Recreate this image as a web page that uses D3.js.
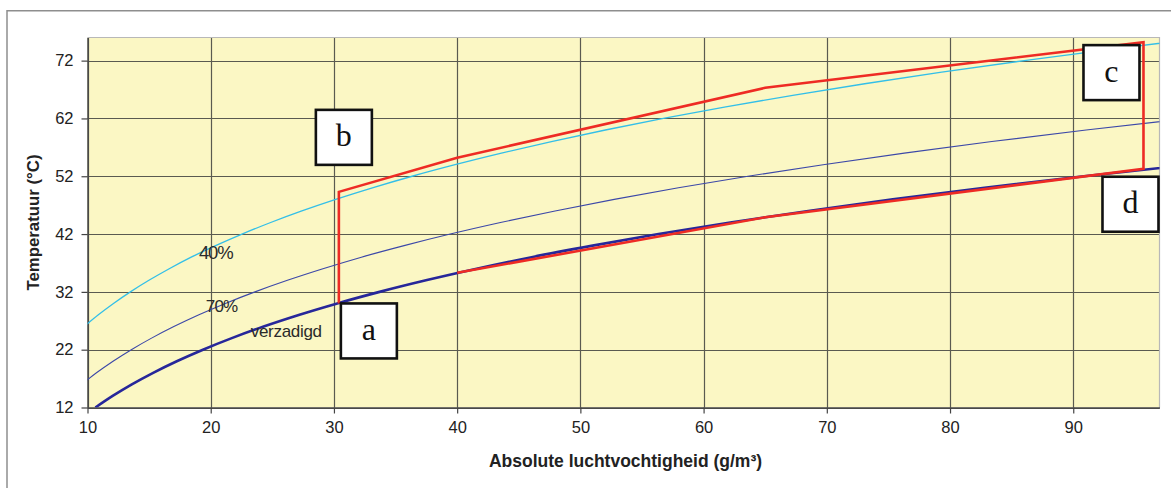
<!DOCTYPE html>
<html>
<head>
<meta charset="utf-8">
<script src="https://cdn.jsdelivr.net/npm/d3@7"></script>
<style>
  html, body { margin: 0; padding: 0; background: #ffffff; }
  svg { display: block; }
</style>
</head>
<body>
<svg id="chart" width="1171" height="488"></svg>
<script>
// Axis ticks
const xTicks = [10, 20, 30, 40, 50, 60, 70, 80, 90];
const yTicks = [12, 22, 32, 42, 52, 62, 72];

// Saturated air ("verzadigd"): absolute humidity (g/m3) at each temperature (°C)
const satTemp     = [12, 14, 16, 18, 20, 22, 24, 26, 28, 30, 32, 34, 36, 38, 40, 42, 44, 46, 48, 50, 52, 54];
const satHumidity = [10.641, 12.041, 13.599, 15.329, 17.246, 19.367, 21.711, 24.296, 27.141, 30.270, 33.703,
                     37.466, 41.583, 46.040, 50.992, 56.342, 62.164, 68.494, 75.357, 82.800, 90.858, 99.572];

// 70% relative humidity
const rh70Temp     = [16, 18, 20, 22, 24, 26, 28, 30, 32, 34, 36, 38, 40, 42, 44, 46, 48, 50, 52, 54, 56, 58, 60, 62];
const rh70Humidity = [9.519, 10.730, 12.072, 13.557, 15.198, 17.007, 18.999, 21.189, 23.592, 26.226, 29.108, 32.228,
                      35.694, 39.439, 43.515, 47.946, 52.750, 57.960, 63.601, 69.700, 76.288, 83.393, 91.050, 99.292];

// 40% relative humidity
const rh40Temp     = [26, 28, 30, 32, 34, 36, 38, 40, 42, 44, 46, 48, 50, 52, 54, 56, 58, 60, 62, 64, 66, 68, 70, 72, 74, 76];
const rh40Humidity = [9.718, 10.856, 12.108, 13.481, 14.986, 16.633, 18.416, 20.397, 22.537, 24.866, 27.398, 30.143, 33.120,
                      36.343, 39.829, 43.593, 47.653, 52.029, 56.738, 61.801, 67.239, 73.073, 79.326, 86.020, 93.180, 100.832];

// Drying cycle a → b → c → d → back along saturation
const cycleHumidity = [30.4, 30.4, 40, 65, 95.7, 95.7, 65, 40];
const cycleTemp     = [30.0, 49.3, 55.2, 67.3, 75.2, 53.3, 44.9, 35.3];
const pointLabels   = ["a", "b", "c", "d"];
const pointIndex    = [0, 1, 4, 5];

// Curve labels
const curveLabels   = ["40%", "70%", "verzadigd"];
const labelHumidity = [19.05, 19.6, 23.25];
const labelTemp     = [37.7, 28.6, 24.2];

const sans = "'Liberation Sans', Arial, Helvetica, sans-serif";
const serif = "'Liberation Serif', 'Times New Roman', serif";

const svg = d3.select("#chart");

const x = d3.scaleLinear().domain([10, 97]).range([87.5, 1159.5]);
const y = d3.scaleLinear().domain([12, 76]).range([407.5, 37.5]);

// outer frame
svg.append("rect")
  .attr("x", 7).attr("y", 10.75)
  .attr("width", 1200).attr("height", 500)
  .attr("fill", "none").attr("stroke", "#8e8e8e").attr("stroke-width", 1.5);

// plot background
svg.append("rect")
  .attr("x", x(10)).attr("y", y(76))
  .attr("width", x(97) - x(10)).attr("height", y(12) - y(76))
  .attr("fill", "#fbf7c4");

svg.append("clipPath").attr("id", "plot-clip")
  .append("rect")
  .attr("x", x(10)).attr("y", y(76))
  .attr("width", x(97) - x(10)).attr("height", y(12) - y(76));

// grid
const grid = svg.append("g");
grid.selectAll("line.v").data(xTicks).join("line")
  .attr("x1", d => Math.round(x(d)) + 0.5).attr("x2", d => Math.round(x(d)) + 0.5)
  .attr("y1", y(76)).attr("y2", y(12))
  .attr("stroke", "#5a5a50").attr("stroke-width", 1.2);
grid.selectAll("line.h").data(yTicks).join("line")
  .attr("y1", d => Math.round(y(d)) + 0.5).attr("y2", d => Math.round(y(d)) + 0.5)
  .attr("x1", x(10)).attr("x2", x(97))
  .attr("stroke", "#5a5a50").attr("stroke-width", 1.2);

// top and right border
svg.append("path")
  .attr("d", `M${x(10)},${y(76)}H${x(97)}V${y(12)}`)
  .attr("fill", "none").attr("stroke", "#b8b8b8").attr("stroke-width", 1.2);

// axes
const xAxis = svg.append("g")
  .attr("transform", `translate(0,${y(12)})`)
  .call(d3.axisBottom(x).tickValues(xTicks).tickSize(6).tickPadding(8).tickSizeOuter(0));
const yAxis = svg.append("g")
  .attr("transform", `translate(${x(10)},0)`)
  .call(d3.axisLeft(y).tickValues(yTicks).tickSize(6).tickPadding(8).tickSizeOuter(0));
[xAxis, yAxis].forEach(g => {
  g.select(".domain").attr("stroke", "#444").attr("stroke-width", 1.4);
  g.selectAll(".tick line").attr("stroke", "#444").attr("stroke-width", 1.2);
  g.selectAll(".tick text")
    .attr("font-size", 16.5)
    .attr("font-family", sans)
    .attr("fill", "#222");
});

// curves
const line = d3.line().x(d => x(d[0])).y(d => y(d[1])).curve(d3.curveMonotoneX);
const curves = svg.append("g").attr("clip-path", "url(#plot-clip)");

curves.append("path")
  .datum(d3.zip(rh40Humidity, rh40Temp))
  .attr("d", line).attr("fill", "none")
  .attr("stroke", "#33bfe8").attr("stroke-width", 1.3);

curves.append("path")
  .datum(d3.zip(rh70Humidity, rh70Temp))
  .attr("d", line).attr("fill", "none")
  .attr("stroke", "#3c48a8").attr("stroke-width", 1.1);

curves.append("path")
  .datum(d3.zip(satHumidity, satTemp))
  .attr("d", line).attr("fill", "none")
  .attr("stroke", "#27279a").attr("stroke-width", 2.6);

// drying cycle
const cycle = d3.line().x(d => x(d[0])).y(d => y(d[1]));
svg.append("path")
  .datum(d3.zip(cycleHumidity, cycleTemp))
  .attr("d", cycle).attr("fill", "none")
  .attr("stroke", "#ee2b24").attr("stroke-width", 2.6)
  .attr("stroke-linejoin", "miter");

// curve labels
const labelSizes = [18.5, 17, 17];
const labelSpacing = [-1.2, -0.8, -0.3];
svg.append("g").selectAll("text").data(curveLabels).join("text")
  .attr("x", (d, i) => x(labelHumidity[i]))
  .attr("y", (d, i) => y(labelTemp[i]))
  .attr("font-family", sans)
  .attr("font-size", (d, i) => labelSizes[i])
  .attr("letter-spacing", (d, i) => labelSpacing[i])
  .attr("fill", "#2a2a2a")
  .text(d => d);

// point labels in boxes
const boxW = 56, boxH = 55;
const boxOffsets = [[2, 0], [-23, -82], [-60, 3], [-41, 8]];
const boxes = svg.append("g").selectAll("g").data(pointLabels).join("g")
  .attr("transform", (d, i) => {
    const k = pointIndex[i];
    return `translate(${x(cycleHumidity[k]) + boxOffsets[i][0]},${y(cycleTemp[k]) + boxOffsets[i][1]})`;
  });
boxes.append("rect")
  .attr("width", boxW).attr("height", boxH)
  .attr("fill", "#ffffff").attr("stroke", "#111").attr("stroke-width", 2.6);
boxes.append("text")
  .attr("x", boxW / 2).attr("y", boxH / 2 + 9)
  .attr("text-anchor", "middle")
  .attr("font-family", serif)
  .attr("font-size", 32)
  .attr("fill", "#111")
  .text(d => d);

// axis titles
svg.append("text")
  .attr("x", (x(10) + x(97)) / 2 + 2).attr("y", 467)
  .attr("text-anchor", "middle")
  .attr("font-family", sans)
  .attr("font-size", 17.5).attr("font-weight", "bold").attr("fill", "#222")
  .text("Absolute luchtvochtigheid (g/m³)");

svg.append("text")
  .attr("transform", `translate(39,${(y(12) + y(76)) / 2}) rotate(-90)`)
  .attr("text-anchor", "middle")
  .attr("font-family", sans)
  .attr("font-size", 16.8).attr("font-weight", "bold").attr("fill", "#222")
  .text("Temperatuur (°C)");
</script>
</body>
</html>
